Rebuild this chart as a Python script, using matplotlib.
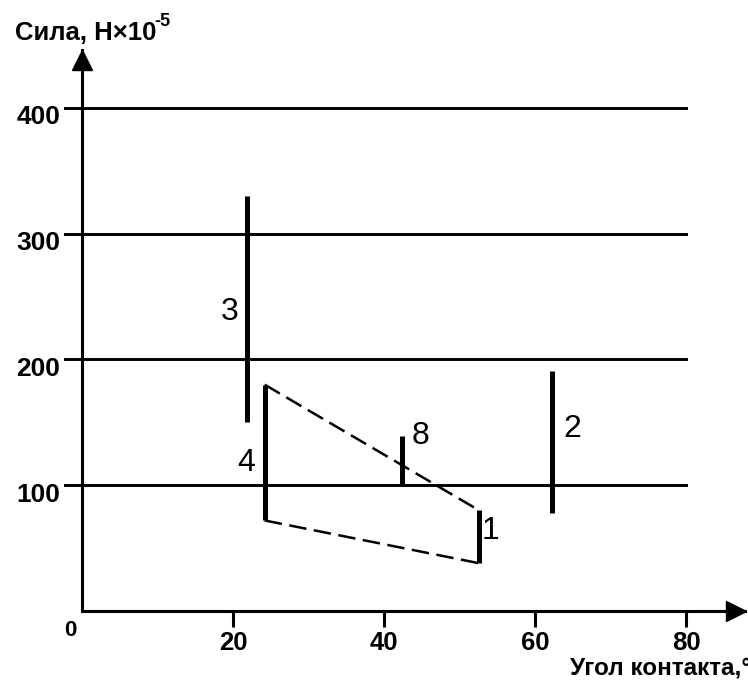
import numpy as np
import matplotlib.pyplot as plt

plt.rcParams['font.family'] = ['Liberation Sans', 'DejaVu Sans']
plt.rcParams['font.weight'] = 'bold'

# vertical bars: label, angle, force min, force max
bar_labels = ['3', '4', '1', '8', '2']
bar_x = [21.8, 24.2, 52.6, 42.4, 62.3]
bar_ymin = [150, 72, 38, 100, 78]
bar_ymax = [330, 180, 80, 139, 191]
label_pos = [(19.5, 238), (21.7, 118), (54.1, 64), (44.8, 139), (65.0, 145)]

# dashed edges between bar 4 and bar 1
dash_x = [24.2, 52.6]
dash_top = [180, 80]
dash_bot = [72, 38]

grid_y = [100, 200, 300, 400]
xticks = [20, 40, 60, 80]

W, H = 748, 685
fig = plt.figure(figsize=(W / 100, H / 100), dpi=100)
x0, y0 = 82, 611
x1, y1 = 745, 50
sx, sy = 7.55, 1.2575
ax = fig.add_axes([x0 / W, (H - y0) / H, (x1 - x0) / W, (y0 - y1) / H])
ax.set_xlim(0, (x1 - x0) / sx)
ax.set_ylim(0, (y0 - y1) / sy)

for s in ['top', 'right']:
    ax.spines[s].set_visible(False)
for s in ['left', 'bottom']:
    ax.spines[s].set_linewidth(2.2)

# arrow heads
ax.plot([ax.get_xlim()[1] - 1.2], [0], marker='>', color='black',
        markersize=15, clip_on=False)
ax.plot([0], [ax.get_ylim()[1] - 8], marker='^', color='black',
        markersize=15, clip_on=False)

for gy in grid_y:
    ax.plot([-2.3, 80], [gy, gy], color='black', lw=2.1, clip_on=False)
    ax.text(-2.9, gy - 7.5, str(gy), fontsize=19, ha='right', va='center')

ax.set_yticks([])
ax.set_xticks(xticks)
ax.set_xticklabels([str(v) for v in xticks], fontsize=18.5)
ax.tick_params(axis='x', length=11.5, width=2.2, pad=3, direction='out')

ax.text(-1.6, -7, '0', fontsize=16, ha='center', va='top')

for lab, xv, lo, hi, (tx, ty) in zip(bar_labels, bar_x, bar_ymin, bar_ymax,
                                     label_pos):
    ax.plot([xv, xv], [lo, hi], color='black', lw=3.6, solid_capstyle='butt')
    ax.text(tx, ty, lab, fontsize=23, ha='center', va='center',
            fontweight='normal')

ax.plot(dash_x, dash_top, color='black', lw=1.8, dashes=(7, 3))
ax.plot(dash_x, dash_bot, color='black', lw=1.8, dashes=(7, 3))

fig.text(15 / W, 1 - 33 / H, 'Сила, Н×10', fontsize=18.5,
         ha='left', va='center')
fig.text(154 / W, 1 - 22 / H, '-5', fontsize=13, ha='left', va='center')
fig.text(570 / W, 1 - 668 / H, 'Угол контакта,°', fontsize=17.5,
         ha='left', va='center')

fig.savefig('out.png', dpi=100)
